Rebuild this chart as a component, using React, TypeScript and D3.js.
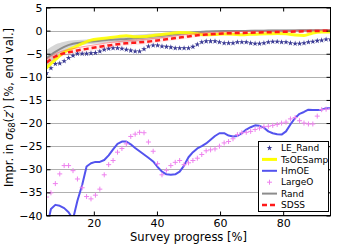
// Survey progress chart — improvement in sigma_68 per selection strategy
import React, { useEffect, useRef } from 'react';
import * as d3 from 'd3';

// fine grid (marker series and HmOE)
const progress = [
  5.0, 6.4, 7.8, 9.2, 10.6, 12.0, 13.4, 14.8, 16.3, 17.7,
  19.1, 20.5, 21.9, 23.3, 24.7, 26.1, 27.5, 28.9, 30.3, 31.7,
  33.1, 34.5, 35.9, 37.3, 38.8, 40.2, 41.6, 43.0, 44.4, 45.8,
  47.2, 48.6, 50.0, 51.4, 52.8, 54.2, 55.6, 57.0, 58.4, 59.8,
  61.3, 62.7, 64.1, 65.5, 66.9, 68.3, 69.7, 71.1, 72.5, 73.9,
  75.3, 76.7, 78.1, 79.5, 80.9, 82.3, 83.8, 85.2, 86.6, 88.0,
  89.4, 90.8, 92.2, 93.6, 95.0,
];

// coarse grid (smooth curves)
const progressCoarse = [
  5.0, 7.8, 10.6, 13.4, 16.3, 19.1, 21.9, 24.7, 27.5, 30.3,
  33.1, 35.9, 38.8, 41.6, 44.4, 47.2, 50.0, 52.8, 55.6, 58.4,
  61.3, 64.1, 66.9, 69.7, 72.5, 75.3, 78.1, 80.9, 83.8, 86.6,
  89.4, 92.2, 95.0,
];

const leRand = [
  -9.2, -8.1, -7.2, -7.1, -6.6, -5.9, -5.4, -5.0, -5.0, -5.0,
  -4.9, -4.8, -4.5, -4.1, -3.9, -3.8, -3.8, -3.9, -4.1, -4.3,
  -4.5, -4.5, -4.0, -3.4, -3.2, -3.2, -3.4, -3.5, -3.6, -3.8,
  -3.8, -3.8, -3.8, -3.5, -3.0, -2.5, -2.3, -2.3, -2.3, -2.5,
  -2.7, -2.7, -2.7, -2.5, -2.5, -2.5, -2.7, -2.8, -2.8, -2.7,
  -2.5, -2.4, -2.4, -2.5, -2.5, -2.7, -2.8, -2.8, -2.7, -2.5,
  -2.4, -2.2, -2.1, -1.9, -1.9,
];

const hmOE = [
  -43, -38.6, -37.7, -37.9, -38.4, -39.3, -40.8, -36.8, -33.4, -29.4,
  -28.7, -28.4, -28.4, -28.0, -27.0, -25.7, -24.5, -24.0, -24.0, -24.6,
  -25.4, -26.1, -26.8, -27.5, -28.3, -29.5, -30.5, -31.1, -31.2, -31.1,
  -30.5, -29.2, -27.4, -26.3, -25.5, -25.0, -24.4, -23.6, -22.8, -22.2,
  -22.2, -22.7, -22.9, -22.8, -22.2, -21.4, -20.9, -20.5, -20.6, -21.0,
  -21.8, -22.2, -22.4, -22.5, -21.8, -20.3, -18.9, -18.0, -17.6, -17.1,
  -17.2, -17.2, -17.1, -16.8, -16.8,
];

const largeO = [
  -36.0, -35.1, -33.1, -31.0, -29.2, -29.2, -30.3, -32.1, -34.0, -35.9,
  -36.4, -35.6, -34.3, -31.2, -29.0, -28.1, -26.3, -25.5, -24.5, -22.9,
  -22.4, -22.0, -22.1, -24.1, -26.1, -28.8, -31.2, -30.2, -29.2, -28.5,
  -28.1, -29.0, -28.6, -28.1, -27.6, -26.8, -26.0, -25.8, -25.6, -25.0,
  -24.3, -24.0, -23.4, -22.5, -22.1, -22.0, -21.8, -21.4, -21.1, -20.8,
  -20.7, -20.5, -20.3, -20.0, -19.8, -19.1, -18.8, -19.5, -20.0, -20.2,
  -20.2, -18.5, -17.1, -17.0, -16.9,
];

const tsOESamp = [
  -8.1, -6.3, -4.7, -3.75, -2.8, -2.05, -1.75, -1.55, -1.3, -1.1,
  -1.35, -1.3, -1.05, -0.85, -0.6, -0.4, -0.45, -0.7, -0.9, -0.85,
  -0.75, -0.8, -0.9, -0.8, -0.75, -0.7, -0.65, -0.7, -0.95, -1.05,
  -0.5, -0.3, -0.3,
];

const rand = [
  -6.0, -4.6, -3.5, -2.85, -2.55, -2.35, -2.2, -2.0, -1.9, -1.8,
  -1.65, -1.5, -1.3, -1.1, -0.9, -0.7, -0.5, -0.3, -0.2, -0.12,
  -0.1, -0.1, -0.08, -0.05, -0.05, 0.0, 0.0, 0.05, 0.05, 0.1,
  0.1, 0.1, 0.1,
];
const randHigh = [
  -4.2, -3.0, -2.4, -2.1, -2.0, -1.8, -1.6, -1.45, -1.25, -1.05,
  -0.9, -0.8, -0.65, -0.5, -0.4, -0.3, -0.2, -0.1, -0.05, 0.0,
  0.05, 0.1, 0.12, 0.15, 0.17, 0.2, 0.22, 0.25, 0.27, 0.3,
  0.3, 0.32, 0.35,
];
const randLow = [
  -7.8, -6.2, -4.6, -3.6, -3.1, -2.9, -2.8, -2.55, -2.55, -2.55,
  -2.4, -2.2, -1.95, -1.7, -1.4, -1.1, -0.8, -0.5, -0.35, -0.24,
  -0.25, -0.3, -0.28, -0.25, -0.27, -0.2, -0.22, -0.15, -0.17, -0.1,
  -0.1, -0.12, -0.15,
];

const sdss = [
  -6.9, -5.6, -4.9, -4.5, -4.1, -3.8, -3.5, -3.2, -2.95, -2.75,
  -2.6, -2.45, -2.25, -2.0, -1.75, -1.5, -1.25, -1.0, -0.85, -0.72,
  -0.62, -0.55, -0.5, -0.45, -0.4, -0.35, -0.3, -0.25, -0.2, -0.15,
  -0.1, -0.05, 0.0,
];
const sdssHigh = [
  -6.2, -5.0, -4.3, -3.9, -3.5, -3.2, -2.9, -2.6, -2.4, -2.2,
  -2.05, -1.9, -1.7, -1.5, -1.25, -1.0, -0.8, -0.6, -0.45, -0.35,
  -0.28, -0.22, -0.18, -0.15, -0.12, -0.1, -0.05, 0.0, 0.05, 0.08,
  0.1, 0.15, 0.2,
];
const sdssLow = [
  -7.6, -6.2, -5.5, -5.1, -4.7, -4.4, -4.1, -3.8, -3.5, -3.3,
  -3.15, -3.0, -2.8, -2.5, -2.25, -2.0, -1.7, -1.4, -1.25, -1.1,
  -0.96, -0.88, -0.82, -0.75, -0.68, -0.6, -0.55, -0.5, -0.45, -0.38,
  -0.3, -0.25, -0.2,
];

const seriesNames = ['LE_Rand', 'TsOESamp', 'HmOE', 'LargeO', 'Rand', 'SDSS'];
const yTicks = [5, 0, -5, -10, -15, -20, -25, -30, -35, -40];
const xTicks = [20, 40, 60, 80];

const W = 343;
const H = 248;
const FONT = 'DejaVu Sans, sans-serif';

const COLORS = {
  leRand: '#3a3a94',
  ts: '#ffff00',
  hm: '#5353ee',
  large: '#ee82ee',
  rand: '#8c8c8c',
  band: '#cfcfcf',
  sdss: '#ff1a1a',
};

const App: React.FC = () => {
  const svgRef = useRef<SVGSVGElement>(null);

  useEffect(() => {
    if (!svgRef.current) return;
    const svg = d3.select(svgRef.current);
    svg.selectAll('*').remove();

    const x0 = 46.5, x1 = 330.5, y0 = 215.5, y1 = 7.5;
    const x = d3.scaleLinear().domain([5, 95]).range([x0, x1]);
    const y = d3.scaleLinear().domain([-40, 5]).range([y0, y1]);

    const defs = svg.append('defs');
    defs.append('clipPath').attr('id', 'plot-clip')
      .append('rect').attr('x', x0).attr('y', y1).attr('width', x1 - x0).attr('height', y0 - y1);

    svg.append('rect').attr('width', W).attr('height', H).attr('fill', '#fff');

    // сетка — только горизонтальная
    svg.append('g')
      .selectAll('line')
      .data(yTicks)
      .enter()
      .append('line')
      .attr('x1', x0).attr('x2', x1)
      .attr('y1', (d) => Math.round(y(d)) + 0.5)
      .attr('y2', (d) => Math.round(y(d)) + 0.5)
      .attr('stroke', '#b0b0b0')
      .attr('stroke-width', 1);

    const plot = svg.append('g').attr('clip-path', 'url(#plot-clip)');
    const coarse = progressCoarse.map((p, i) => ({ p, i }));
    const fine = progress.map((p, i) => ({ p, i }));

    // Rand: полоса разброса + линия
    const band = d3.area<{ p: number; i: number }>()
      .x((d) => x(d.p))
      .y0((d) => y(randLow[d.i]))
      .y1((d) => y(randHigh[d.i]))
      .curve(d3.curveMonotoneX);
    plot.append('path').datum(coarse).attr('d', band).attr('fill', COLORS.band).attr('opacity', 0.85);

    const lineOf = (vals: number[]) => d3.line<{ p: number; i: number }>()
      .x((d) => x(d.p))
      .y((d) => y(vals[d.i]))
      .curve(d3.curveMonotoneX);

    plot.append('path').datum(coarse).attr('d', lineOf(rand))
      .attr('fill', 'none').attr('stroke', COLORS.rand).attr('stroke-width', 2);

    // LE_Rand — звёздочки
    const star = d3.symbol().type(d3.symbolStar).size(10);
    plot.append('g')
      .selectAll('path')
      .data(fine)
      .enter()
      .append('path')
      .attr('d', star)
      .attr('transform', (d) => `translate(${x(d.p)},${y(leRand[d.i])})`)
      .attr('fill', COLORS.leRand);

    // TsOESamp
    plot.append('path').datum(coarse).attr('d', lineOf(tsOESamp))
      .attr('fill', 'none').attr('stroke', COLORS.ts).attr('stroke-width', 3).attr('opacity', 0.9);

    // HmOE
    const hmLine = d3.line<{ p: number; i: number }>()
      .x((d) => x(d.p))
      .y((d) => y(hmOE[d.i]));
    plot.append('path').datum(fine).attr('d', hmLine)
      .attr('fill', 'none').attr('stroke', COLORS.hm).attr('stroke-width', 2)
      .attr('stroke-linejoin', 'round');

    // LargeO — плюсы
    const plus = 'M-2.5,0H2.5M0,-2.5V2.5';
    plot.append('g')
      .selectAll('path')
      .data(fine)
      .enter()
      .append('path')
      .attr('d', plus)
      .attr('transform', (d) => `translate(${x(d.p)},${y(largeO[d.i])})`)
      .attr('stroke', COLORS.large)
      .attr('stroke-width', 1)
      .attr('fill', 'none');

    // SDSS: бледная полоса + пунктир
    const sdssBand = d3.area<{ p: number; i: number }>()
      .x((d) => x(d.p))
      .y0((d) => y(sdssLow[d.i]))
      .y1((d) => y(sdssHigh[d.i]))
      .curve(d3.curveMonotoneX);
    plot.append('path').datum(coarse).attr('d', sdssBand).attr('fill', '#ff0000').attr('opacity', 0.08);
    plot.append('path').datum(coarse).attr('d', lineOf(sdssHigh))
      .attr('fill', 'none').attr('stroke', '#ff6060').attr('stroke-width', 0.8).attr('opacity', 0.7);
    plot.append('path').datum(coarse).attr('d', lineOf(sdss))
      .attr('fill', 'none').attr('stroke', COLORS.sdss).attr('stroke-width', 2.5)
      .attr('stroke-dasharray', '5,3');

    // оси — тики внутрь на всех сторонах
    const styleAxis = (g: d3.Selection<SVGGElement, unknown, null, undefined>) => {
      g.select('.domain').remove();
      g.selectAll('line').attr('stroke', '#000');
      g.selectAll('text').attr('font-family', FONT).attr('font-size', 11).attr('fill', '#000');
    };

    svg.append('g')
      .attr('transform', `translate(${x0},0)`)
      .call(d3.axisLeft(y).tickValues(yTicks).tickSizeInner(-4).tickSizeOuter(0).tickPadding(4))
      .call(styleAxis);
    svg.append('g')
      .attr('transform', `translate(${x1},0)`)
      .call(d3.axisRight(y).tickValues(yTicks).tickSizeInner(-4).tickSizeOuter(0).tickFormat(() => ''))
      .call(styleAxis);
    svg.append('g')
      .attr('transform', `translate(0,${y0})`)
      .call(d3.axisBottom(x).tickValues(xTicks).tickSizeInner(-4).tickSizeOuter(0).tickPadding(3.5))
      .call(styleAxis);
    svg.append('g')
      .attr('transform', `translate(0,${y1})`)
      .call(d3.axisTop(x).tickValues(xTicks).tickSizeInner(-4).tickSizeOuter(0).tickFormat(() => ''))
      .call(styleAxis);

    // рамка
    svg.append('rect')
      .attr('x', x0).attr('y', y1).attr('width', x1 - x0).attr('height', y0 - y1)
      .attr('fill', 'none').attr('stroke', '#000').attr('stroke-width', 1);

    // подписи осей
    svg.append('text')
      .attr('x', (x0 + x1) / 2).attr('y', 241)
      .attr('text-anchor', 'middle')
      .attr('font-family', FONT).attr('font-size', 11.5)
      .text('Survey progress [%]');

    const yl = svg.append('text')
      .attr('transform', `translate(12.5,${(y0 + y1) / 2 - 4}) rotate(-90)`)
      .attr('text-anchor', 'middle')
      .attr('font-family', FONT).attr('font-size', 11.5);
    yl.append('tspan').text('Impr. in ');
    yl.append('tspan').attr('font-style', 'italic').text('σ');
    yl.append('tspan').attr('font-size', 8).attr('dy', 2.5).text('68');
    yl.append('tspan').attr('dy', -2.5).text('(');
    yl.append('tspan').attr('font-style', 'italic').text('z');
    yl.append('tspan').text('′) [%, end val.]');

    // легенда
    const lg = svg.append('g');
    lg.append('rect')
      .attr('x', 258.5).attr('y', 141.5).attr('width', 70).attr('height', 70)
      .attr('fill', '#fff').attr('stroke', '#000').attr('stroke-width', 1);
    const ly = (k: number) => 148 + k * 11.4;
    const hx0 = 262, hx1 = 277, hxc = 269.5;
    seriesNames.forEach((name, k) => {
      const yy = ly(k);
      if (name === 'LE_Rand') {
        lg.append('path').attr('d', star).attr('transform', `translate(${hxc},${yy})`).attr('fill', COLORS.leRand);
      } else if (name === 'LargeO') {
        lg.append('path').attr('d', plus).attr('transform', `translate(${hxc},${yy})`)
          .attr('stroke', COLORS.large).attr('stroke-width', 1);
      } else {
        const stroke = name === 'TsOESamp' ? COLORS.ts : name === 'HmOE' ? COLORS.hm
          : name === 'Rand' ? COLORS.rand : COLORS.sdss;
        const l = lg.append('line')
          .attr('x1', hx0).attr('x2', hx1).attr('y1', yy).attr('y2', yy)
          .attr('stroke', stroke)
          .attr('stroke-width', name === 'TsOESamp' ? 3 : name === 'SDSS' ? 2.5 : 2);
        if (name === 'SDSS') l.attr('stroke-dasharray', '5,3');
      }
      lg.append('text')
        .attr('x', 281).attr('y', yy).attr('dy', '0.35em')
        .attr('font-family', FONT).attr('font-size', 9)
        .text(name);
    });
  }, []);

  return (
    <svg ref={svgRef} width={W} height={H} style={{ position: 'absolute', left: 0, top: 0 }} />
  );
};

export default App;
